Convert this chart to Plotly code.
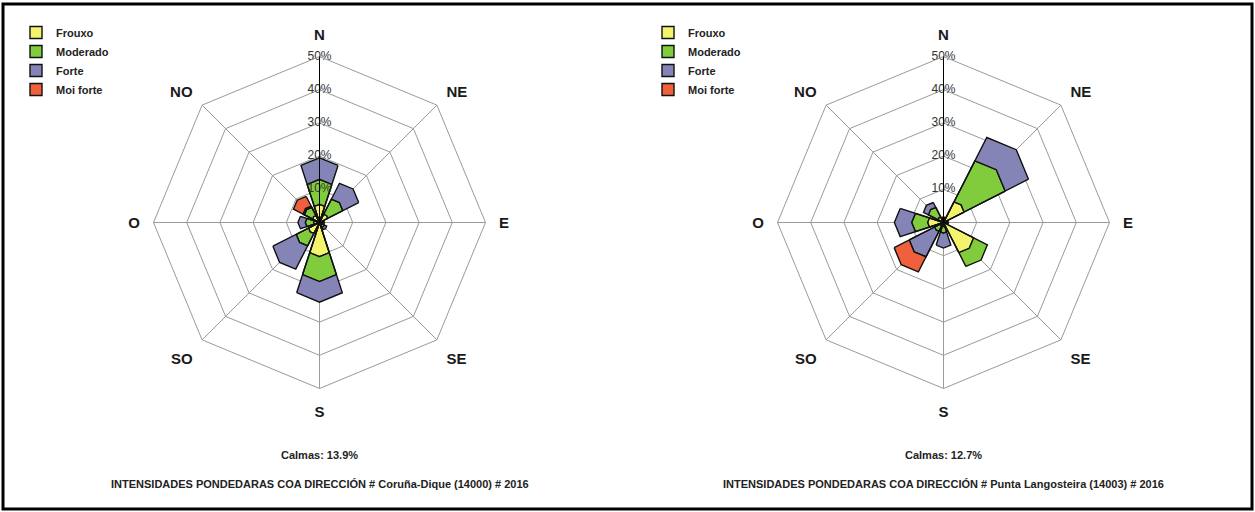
import plotly.graph_objects as go

# wind directions (clockwise from north), galician labels
directions = ["N", "NE", "E", "SE", "S", "SO", "O", "NO"]
classes = ["Frouxo", "Moderado", "Forte", "Moi forte"]

# Coruña-Dique (14000) - % of time per direction and intensity class
coruna = {
    "Frouxo":    [5.5, 3.0, 0.6, 0.8, 10.3, 4.0, 1.8, 2.5],
    "Moderado":  [7.5, 5.5, 0.5, 0.9, 7.5, 4.5, 2.5, 3.0],
    "Forte":     [6.5, 5.8, 0.4, 0.9, 6.2, 8.5, 2.2, 0.5],
    "Moi forte": [0.0, 0.0, 0.0, 0.0, 0.0, 0.0, 0.0, 3.5],
}
# Punta Langosteira (14003)
langosteira = {
    "Frouxo":    [0.8, 7.5, 0.8, 11.0, 1.2, 1.2, 4.8, 2.0],
    "Moderado":  [0.6, 15.0, 0.5, 5.0, 2.0, 2.0, 4.8, 3.5],
    "Forte":     [0.3, 8.5, 0.2, 0.0, 4.5, 9.3, 5.2, 1.8],
    "Moi forte": [0.0, 0.0, 0.0, 0.0, 0.0, 5.5, 0.0, 0.0],
}
calmas = [13.9, 12.7]
stations = ["Coruña-Dique (14000)", "Punta Langosteira (14003)"]
year = 2016
radial_ticks = [0, 10, 20, 30, 40, 50]

colors = {
    "Frouxo": "#F4F46C",
    "Moderado": "#80CC3C",
    "Forte": "#8484B6",
    "Moi forte": "#F0603C",
}

W, H = 1255, 512
fig = go.Figure()

font = "Liberation Sans, Arial, sans-serif"


def add_rose(data, polar, legend):
    for c in classes:
        fig.add_trace(go.Barpolar(
            r=data[c], theta=directions, width=0.8,
            name=c, subplot=polar, legend=legend,
            marker=dict(color=colors[c], line=dict(color="#111111", width=1.4)),
        ))
    # radial tick labels, centred on the north axis
    fig.add_trace(go.Scatterpolar(
        r=radial_ticks, theta=[directions[0]] * len(radial_ticks),
        subplot=polar, mode="text",
        text=["%d%%" % t for t in radial_ticks],
        marker=dict(color="#333333"),
        textfont=dict(family=font, size=12, color="#333333"),
        showlegend=False, hoverinfo="skip",
    ))


add_rose(coruna, "polar", "legend")
add_rose(langosteira, "polar2", "legend2")

R = 166
centres = [(319.5, 222.5), (943.5, 222.5)]


def polar_layout(cx, cy):
    return dict(
        domain=dict(x=[(cx - R) / W, (cx + R) / W],
                    y=[(H - cy - R) / H, (H - cy + R) / H]),
        gridshape="linear",
        bgcolor="white",
        barmode="stack",
        angularaxis=dict(
            type="category", categoryorder="array", categoryarray=directions,
            rotation=90, direction="clockwise",
            ticks="outside", ticklen=10, tickcolor="rgba(0,0,0,0)",
            showline=True, linecolor="#9a9a9a", linewidth=1,
            gridcolor="#9a9a9a", gridwidth=1,
            tickfont=dict(family=font, size=15, color="#1a1a1a", weight="bold"),
        ),
        radialaxis=dict(
            range=[0, 50], tickvals=radial_ticks[1:], showticklabels=False,
            ticks="", angle=90, showline=True, linecolor="#000000",
            linewidth=1, gridcolor="#9a9a9a", gridwidth=1,
            layer="above traces",
        ),
    )


legend_style = dict(
    font=dict(family=font, size=11, color="#222222", weight="bold"),
    bgcolor="rgba(0,0,0,0)", yanchor="top", xanchor="left",
    itemclick=False, itemdoubleclick=False, tracegroupgap=0,
)

annotations = []
for (cx, cy), calm, st in zip(centres, calmas, stations):
    annotations.append(dict(
        x=cx / W, y=1 - 455 / H, xref="paper", yref="paper",
        xanchor="center", yanchor="middle",
        text="Calmas: %.1f%%" % calm, showarrow=False,
        font=dict(family=font, size=11, color="#222222", weight="bold"),
    ))
    annotations.append(dict(
        x=cx / W, y=1 - 484 / H, xref="paper", yref="paper",
        xanchor="center", yanchor="middle",
        text="INTENSIDADES PONDEDARAS COA DIRECCIÓN # %s # %d" % (st, year),
        showarrow=False,
        font=dict(family=font, size=11, color="#222222", weight="bold"),
    ))

fig.update_layout(
    width=W, height=H,
    margin=dict(l=0, r=0, t=0, b=0),
    paper_bgcolor="white",
    polar=polar_layout(*centres[0]),
    polar2=polar_layout(*centres[1]),
    legend=dict(x=16 / W, y=1 - 18 / H, **legend_style),
    legend2=dict(x=648 / W, y=1 - 18 / H, **legend_style),
    annotations=annotations,
    shapes=[dict(type="rect", xref="paper", yref="paper",
                 x0=3 / W, x1=1252 / W, y0=1 - 509 / H, y1=1 - 4 / H,
                 line=dict(color="black", width=3))],
)

# the page's default body margin would shift the 1255x512 figure
fig.write_html("out.html", config={"displayModeBar": False},
               post_script="document.body.style.margin='0';")
